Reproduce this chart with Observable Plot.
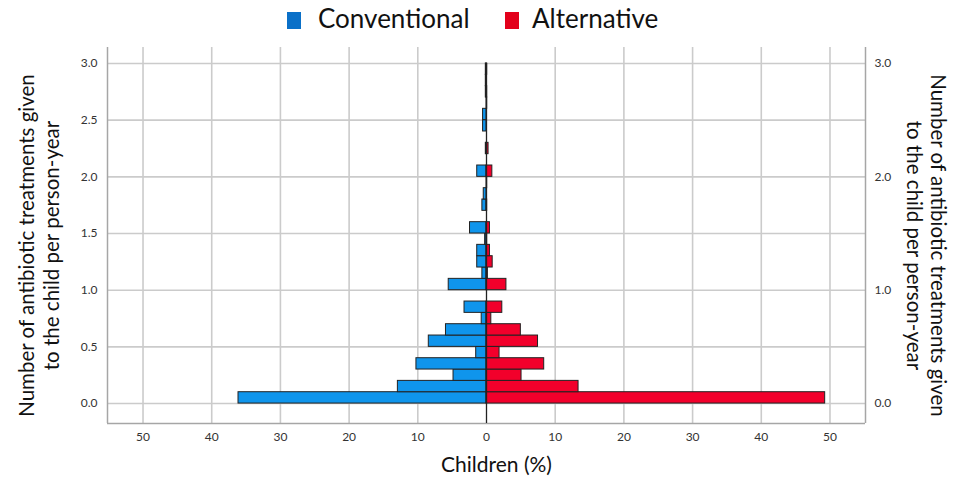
<!DOCTYPE html>
<html>
<head>
<meta charset="utf-8">
<script src="https://cdn.jsdelivr.net/npm/d3@7"></script>
<script src="https://cdn.jsdelivr.net/npm/@observablehq/plot@0.6"></script>
<style>
  body { margin: 0; background: #fff; font-family: Lato, "Open Sans", sans-serif; }
  #legend { position: relative; width: 953px; height: 42px; }
  #legend .sw { position: absolute; top: 12px; width: 14px; height: 17px; }
  #legend .lb { position: absolute; top: 3px; font-size: 26px; color: #111; line-height: 30px; }
</style>
</head>
<body>
<div id="legend"></div>
<div id="chart"></div>
<script>
// Histogram bins (lower bound, width 0.1) of antibiotic treatments per person-year
const bins = [0.0,0.1,0.2,0.3,0.4,0.5,0.6,0.7,0.8,0.9,1.0,1.1,1.2,1.3,1.4,1.5,1.6,1.7,1.8,1.9,2.0,2.1,2.2,2.3,2.4,2.5,2.6,2.7,2.8,2.9];
// Children (%) per bin
const conventional = [36.1,12.9,4.8,10.2,1.5,8.4,5.9,0.7,3.2,0,5.5,0.6,1.35,1.35,0.2,2.4,0,0.6,0.4,0,1.35,0,0.1,0,0.5,0.5,0,0.1,0.1,0.1];
const alternative  = [49.3,13.4,5.1,8.4,1.9,7.5,5.0,0.7,2.3,0,2.9,0.2,0.9,0.5,0.1,0.5,0,0.1,0,0.1,0.85,0,0.3,0,0,0,0.1,0.1,0,0.1];
const seriesNames = ["Conventional", "Alternative"];
const barColors = ["#0f95ec", "#f2002b"];
const legendColors = ["#0a70c8", "#e3001b"];
const xTicks = [-50,-40,-30,-20,-10,0,10,20,30,40,50];
const yTicksLeft = [0,0.5,1,1.5,2,2.5,3];
const yTicksRight = [0,1,2,3];
const xTitle = "Children (%)";
const yTitle1 = "Number of antibiotic treatments given";
const yTitle2 = "to the child per person-year";

// legend
const leg = document.getElementById("legend");
const legPos = [[287, 318], [505, 532]];
seriesNames.forEach((n, i) => {
  const s = document.createElement("div");
  s.className = "sw"; s.style.left = legPos[i][0] + "px"; s.style.background = legendColors[i];
  const t = document.createElement("div");
  t.className = "lb"; t.style.left = legPos[i][1] + "px"; t.textContent = n;
  leg.appendChild(s); leg.appendChild(t);
});

const rows = [];
bins.forEach((b, i) => {
  rows.push({series: seriesNames[0], lo: b, hi: b + 0.1, v: -conventional[i]});
  rows.push({series: seriesNames[1], lo: b, hi: b + 0.1, v: alternative[i]});
});

const xDom = [-55.17, 55.17];
const yDom = [-0.176, 3.141];

const chart = Plot.plot({
  width: 953,
  height: 437,
  marginLeft: 107,
  marginRight: 88,
  marginTop: 5,
  marginBottom: 56,
  style: {fontFamily: "Lato, 'Open Sans', sans-serif", fontSize: "12px", color: "#333", background: "#fff"},
  x: {domain: xDom, label: null},
  y: {domain: yDom, label: null},
  color: {domain: seriesNames, range: barColors},
  marks: [
    Plot.gridX(xTicks.filter(d => d !== 0), {stroke: "#cbcbcb", strokeOpacity: 1, strokeWidth: 1.6}),
    Plot.gridY(yTicksLeft, {stroke: "#cbcbcb", strokeOpacity: 1, strokeWidth: 1.6}),
    Plot.ruleX([xDom[0], xDom[1]], {stroke: "#a6a6a6", strokeWidth: 1.5}),
    Plot.ruleY([yDom[0]], {stroke: "#a6a6a6", strokeWidth: 1.5}),
    Plot.rectX(rows, {x1: 0, x2: "v", y1: "lo", y2: "hi", fill: "series", stroke: "#222", strokeWidth: 1, inset: 0}),
    Plot.ruleX([0], {y1: yDom[0], y2: 3.0, stroke: "#222", strokeWidth: 1.3}),
    Plot.axisX(xTicks, {tickSize: 0, tickPadding: 9, tickFormat: d => Math.abs(d), fontSize: 12, fill: "#333"}),
    Plot.axisY(yTicksLeft, {anchor: "left", tickSize: 0, tickPadding: 10, tickFormat: d3.format(".1f"), fontSize: 12, fill: "#333"}),
    Plot.axisY(yTicksRight, {anchor: "right", tickSize: 0, tickPadding: 9, tickFormat: d3.format(".1f"), fontSize: 12, fill: "#333"}),
    Plot.text([xTitle], {frameAnchor: "bottom", lineAnchor: "middle", dy: 42, dx: 10, fontSize: 21, fill: "#111"}),
    Plot.text([yTitle1], {frameAnchor: "left", textAnchor: "middle", lineAnchor: "middle", rotate: -90, dx: -80, dy: 10, fontSize: 20.5, fill: "#111"}),
    Plot.text([yTitle2], {frameAnchor: "left", textAnchor: "middle", lineAnchor: "middle", rotate: -90, dx: -55, dy: 10, fontSize: 20.5, fill: "#111"}),
    Plot.text([yTitle1], {frameAnchor: "right", textAnchor: "middle", lineAnchor: "middle", rotate: 90, dx: 72, dy: 10, fontSize: 20.5, fill: "#111"}),
    Plot.text([yTitle2], {frameAnchor: "right", textAnchor: "middle", lineAnchor: "middle", rotate: 90, dx: 48, dy: 10, fontSize: 20.5, fill: "#111"})
  ]
});
document.getElementById("chart").appendChild(chart);
</script>
</body>
</html>
